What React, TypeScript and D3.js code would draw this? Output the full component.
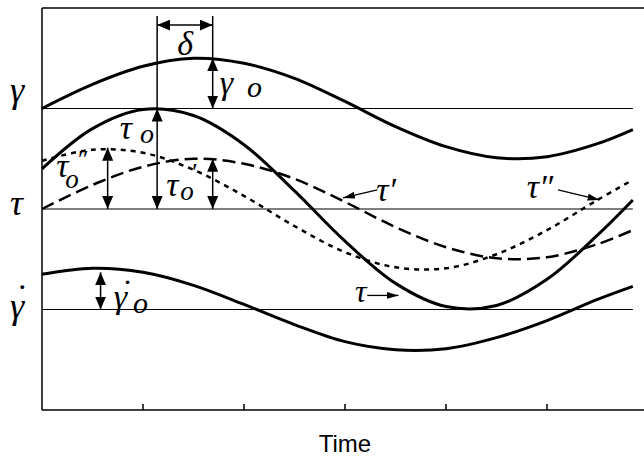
import React from "react";
import * as d3 from "d3";

const time = [0, 0.5, 1, 1.5, 2, 2.5, 3, 3.5, 4, 4.5, 5, 5.5, 5.85];
const strain = [3.0, 3.24, 3.42, 3.5, 3.45, 3.3, 3.07, 2.82, 2.62, 2.51, 2.52, 2.65, 2.79];
const stress = [2.4, 2.8, 2.99, 2.93, 2.64, 2.18, 1.68, 1.26, 1.03, 1.04, 1.3, 1.74, 2.09];
const stressInPhase = [2.0, 2.24, 2.42, 2.5, 2.45, 2.3, 2.07, 1.82, 1.62, 1.51, 1.52, 1.65, 1.79];
const stressOutPhase = [2.48, 2.59, 2.56, 2.39, 2.13, 1.83, 1.57, 1.42, 1.41, 1.55, 1.79, 2.09, 2.29];
const strainRate = [1.35, 1.41, 1.37, 1.24, 1.05, 0.85, 0.68, 0.6, 0.61, 0.72, 0.89, 1.1, 1.23];

const baselineValues = [3, 2, 1];
const baselineLabels = ["γ", "τ", "γ"];
const baselineDy = [-7, 6, 8];
const tickValues = [1, 2, 3, 4, 5];

// amplitude arrows: time, from, to
const amplitudeArrows = [
  { t: 1.69, from: 3, to: 3.5 },
  { t: 1.14, from: 2, to: 3 },
  { t: 1.69, from: 2, to: 2.5 },
  { t: 0.65, from: 2, to: 2.61 },
  { t: 0.58, from: 1, to: 1.37 },
];

// phase lag delta
const deltaStart = 1.14;
const deltaEnd = 1.69;
const deltaLevel = 3.83;
const guideTop = 3.92;

// callout arrows
const callouts = [
  { t0: 3.32, v0: 2.19, t1: 2.98, v1: 2.11 },
  { t0: 5.11, v0: 2.19, t1: 5.52, v1: 2.09 },
  { t0: 3.22, v0: 1.14, t1: 3.53, v1: 1.14 },
];

const labels = [
  { text: "δ", t: 1.34, v: 3.53, size: 34 },
  { text: "γ", t: 1.76, v: 3.14, size: 34 },
  { text: "o", t: 2.03, v: 3.11, size: 30 },
  { text: "τ", t: 0.77, v: 2.7, size: 34 },
  { text: "o", t: 0.97, v: 2.66, size: 28 },
  { text: "τ", t: 0.14, v: 2.32, size: 34 },
  { text: "″", t: 0.34, v: 2.41, size: 26 },
  { text: "o", t: 0.23, v: 2.21, size: 27 },
  { text: "τ", t: 1.23, v: 2.13, size: 34 },
  { text: "′", t: 1.47, v: 2.28, size: 26 },
  { text: "o", t: 1.37, v: 2.09, size: 27 },
  { text: "γ", t: 0.71, v: 1.01, size: 34 },
  { text: "˙", t: 0.77, v: 1.065, size: 34 },
  { text: "o", t: 0.9, v: 0.97, size: 30 },
  { text: "τ′", t: 3.31, v: 2.08, size: 34 },
  { text: "τ″", t: 4.8, v: 2.11, size: 34 },
  { text: "τ", t: 3.1, v: 1.07, size: 32 },
];

const serif = "Liberation Serif";

const App = () => {
  const width = 644;
  const height = 457;
  const left = 42;
  const top = 8;
  const bottom = 410;

  const x = d3.scaleLinear().domain([0, 6]).range([left, 648]);
  const y = d3.scaleLinear().domain([0, 4]).range([bottom, top]);

  const line = (values: number[]) =>
    d3
      .line<number>()
      .x((d, i) => x(time[i]))
      .y((d) => y(d))
      .curve(d3.curveCatmullRom.alpha(0.5))(values) || "";

  const endX = x(time[time.length - 1]);

  return (
    <svg
      width={width}
      height={height}
      style={{ position: "absolute", left: 0, top: 0, background: "#fff" }}
    >
      <defs>
        <marker
          id="head"
          viewBox="0 0 13 11"
          refX={13}
          refY={5.5}
          markerWidth={13}
          markerHeight={11}
          markerUnits="userSpaceOnUse"
          orient="auto-start-reverse"
        >
          <path d="M0,0L13,5.5L0,11z" fill="#000" />
        </marker>
        <marker
          id="small"
          viewBox="0 0 12 7"
          refX={12}
          refY={3.5}
          markerWidth={12}
          markerHeight={7}
          markerUnits="userSpaceOnUse"
          orient="auto"
        >
          <path d="M0,0L12,3.5L0,7z" fill="#000" />
        </marker>
      </defs>

      {/* frame */}
      <g stroke="#000" strokeWidth={1.5} fill="none">
        <line x1={left} x2={width} y1={top} y2={top} />
        <line x1={left} x2={left} y1={top} y2={bottom} />
        <line x1={left} x2={width} y1={bottom} y2={bottom} />
        {tickValues.map((t) => (
          <line key={t} x1={x(t)} x2={x(t)} y1={bottom} y2={bottom - 6} />
        ))}
      </g>

      {/* baselines */}
      {baselineValues.map((v, i) => (
        <g key={v}>
          <line x1={left} x2={endX} y1={y(v)} y2={y(v)} stroke="#000" strokeWidth={1.2} />
          <text
            x={10}
            y={y(v) + baselineDy[i]}
            fontSize={36}
            fontFamily={serif}
            fontStyle="italic"
          >
            {baselineLabels[i]}
          </text>
        </g>
      ))}
      <text x={14} y={y(1) - 1} fontSize={36} fontFamily={serif} fontStyle="italic">
        ˙
      </text>

      {/* curves */}
      <g fill="none" stroke="#000">
        <path d={line(strain)} strokeWidth={3} />
        <path d={line(stress)} strokeWidth={3} />
        <path d={line(stressInPhase)} strokeWidth={2.5} strokeDasharray="13 6" />
        <path d={line(stressOutPhase)} strokeWidth={2.5} strokeDasharray="5 5" />
        <path d={line(strainRate)} strokeWidth={3} />
      </g>

      {/* guides and amplitude arrows */}
      <g stroke="#000" strokeWidth={1.5} fill="none">
        <line x1={x(deltaStart)} x2={x(deltaStart)} y1={y(guideTop)} y2={y(3)} />
        <line x1={x(deltaEnd)} x2={x(deltaEnd)} y1={y(guideTop)} y2={y(3.5)} />
        <line
          x1={x(deltaStart)}
          x2={x(deltaEnd)}
          y1={y(deltaLevel)}
          y2={y(deltaLevel)}
          markerStart="url(#head)"
          markerEnd="url(#head)"
        />
        {amplitudeArrows.map((a, i) => (
          <line
            key={i}
            x1={x(a.t)}
            x2={x(a.t)}
            y1={y(a.from)}
            y2={y(a.to)}
            markerStart="url(#head)"
            markerEnd="url(#head)"
          />
        ))}
        {callouts.map((c, i) => (
          <line
            key={i}
            x1={x(c.t0)}
            y1={y(c.v0)}
            x2={x(c.t1)}
            y2={y(c.v1)}
            strokeWidth={1.3}
            markerEnd="url(#small)"
          />
        ))}
      </g>

      {labels.map((l, i) => (
        <text
          key={i}
          x={x(l.t)}
          y={y(l.v)}
          fontSize={l.size}
          fontFamily={serif}
          fontStyle="italic"
        >
          {l.text}
        </text>
      ))}

      <text x={x(3)} y={452} textAnchor="middle" fontSize={24} fontFamily="Liberation Sans">
        Time
      </text>
    </svg>
  );
};

export default App;
